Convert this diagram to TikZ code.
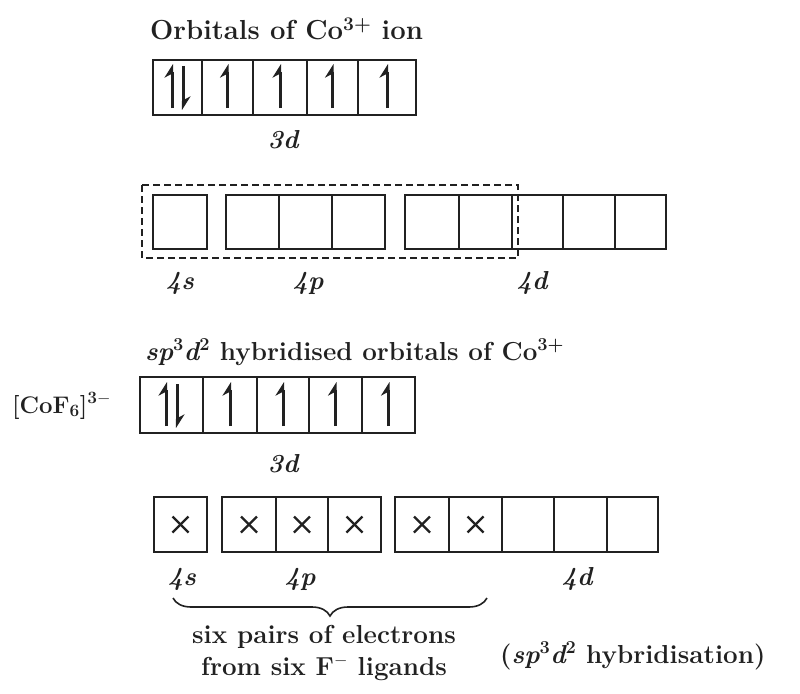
\documentclass[tikz,border=0pt]{standalone}
\usetikzlibrary{arrows.meta,decorations.pathreplacing}
\definecolor{ink}{gray}{0.13}
\tikzset{
  cell/.style={draw=ink, line width=2.4pt},
  spin/.style={draw=ink, line width=3pt, -{Stealth[left,length=12pt,width=15pt]}},
  cross/.style={draw=ink, line width=2.2pt},
  txt/.style={text=ink, inner sep=0pt, font=\fontsize{26}{30}\selectfont\bfseries},
  lbl/.style={txt, font=\fontsize{26}{30}\selectfont\bfseries\itshape},
  dashbox/.style={draw=ink, line width=2pt, dash pattern=on 7pt off 4pt},
  bracestyle/.style={draw=ink, line width=1.6pt, decorate, decoration={brace, mirror, amplitude=18pt}}
}
\begin{document}
\begin{tikzpicture}[x=1pt,y=-1pt]
\useasboundingbox[fill=white] (0,0) rectangle (800,693);

% ---- Orbitals of Co3+ ion
\node[txt, anchor=base west, font=\fontsize{27.5}{32}\selectfont\bfseries] (title1) at (150,40) {Orbitals of Co\textsuperscript{3+} ion};
\foreach \a/\b in {153/202,202/253,253/307,307/358,358/416}
  \draw[cell] (\a,60) rectangle (\b,115);
% paired
\draw[spin] (172,108) -- (172,64);
\draw[spin] (183,66) -- (183,110);
\foreach \c in {227.5,280,332.5,387}
  \draw[spin] (\c,108) -- (\c,64);
\node[lbl, anchor=base] (l3d1) at (283,148) {3d};

% ---- 4s 4p 4d empty
\draw[dashbox] (142,185) rectangle (518,258);
\draw[cell] (153,195) rectangle (207,249);
\foreach \a/\b in {226/279,279/332,332/385}
  \draw[cell] (\a,195) rectangle (\b,249);
\foreach \a/\b in {405/459,459/512,512/563,563/615,615/666}
  \draw[cell] (\a,195) rectangle (\b,249);
\node[lbl, anchor=base] (l4s1) at (180,289) {4s};
\node[lbl, anchor=base] (l4p1) at (308,289) {4p};
\node[lbl, anchor=base] (l4d1) at (532,289) {4d};

% ---- sp3d2 hybridised
\node[txt, anchor=base west] (title2) at (145,360) {{\itshape sp}\textsuperscript{3}{\itshape d}\textsuperscript{2} hybridised orbitals of Co\textsuperscript{3+}};
\node[txt, anchor=base west, font=\fontsize{24}{28}\selectfont\bfseries] (cof) at (12,413) {[CoF$_{\mathbf{6}}$]$^{\mathbf{3-}}$};
\foreach \a/\b in {140/203,203/257,257/309,309/362,362/415}
  \draw[cell] (\a,377) rectangle (\b,433);
\draw[spin] (166,426) -- (166,382);
\draw[spin] (177,384) -- (177,428);
\foreach \c in {230,283,335.5,388.5}
  \draw[spin] (\c,426) -- (\c,382);
\node[lbl, anchor=base] (l3d2) at (283,472) {3d};

% ---- hybrid row with ligand pairs
\draw[cell] (154,497) rectangle (207,552);
\foreach \a/\b in {222/276,276/328,328/381}
  \draw[cell] (\a,497) rectangle (\b,552);
\foreach \a/\b in {395/449,449/502,502/554,554/607,607/658}
  \draw[cell] (\a,497) rectangle (\b,552);
\foreach \c in {180.5,249,302,354.5,422,475.5} {
  \draw[cross] (\c-8,516.5) -- (\c+8,532.5);
  \draw[cross] (\c-8,532.5) -- (\c+8,516.5);
}
\node[lbl, anchor=base] (l4s2) at (182,585) {4s};
\node[lbl, anchor=base] (l4p2) at (300,585) {4p};
\node[lbl, anchor=base] (l4d2) at (577,585) {4d};

\coordinate (bl) at (173,598);
\coordinate (br) at (487,598);
\draw[bracestyle] (bl) -- (br);
\node[txt, anchor=base] (six1) at (324,643) {six pairs of electrons};
\node[txt, anchor=base] (six2) at (324,675) {from six F\textsuperscript{$-$} ligands};
\node[txt, anchor=base west] (hyb) at (500,663) {({\itshape sp}\textsuperscript{3}{\itshape d}\textsuperscript{2} hybridisation)};
\end{tikzpicture}
\end{document}
